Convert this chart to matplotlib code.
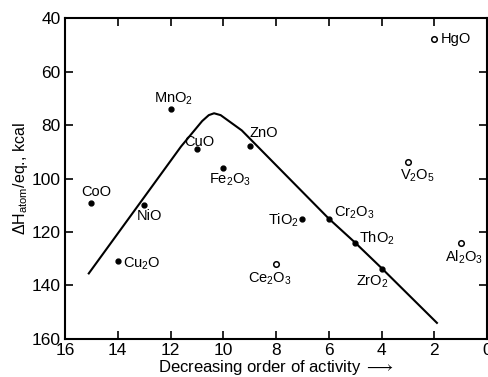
import matplotlib
matplotlib.use("Agg")
import matplotlib.pyplot as plt

plt.rcParams["font.family"] = ["Liberation Sans", "DejaVu Sans"]
plt.rcParams["mathtext.fontset"] = "custom"
plt.rcParams["mathtext.rm"] = "Liberation Sans"
plt.rcParams["mathtext.it"] = "Liberation Sans"

# filled points: oxides on or near the curve
filled_names = ["MnO$_2$", "CuO", "Fe$_2$O$_3$", "ZnO", "CoO", "NiO", "Cu$_2$O",
                "TiO$_2$", "Cr$_2$O$_3$", "ThO$_2$", "ZrO$_2$"]
filled_x = [12, 11, 10, 9, 15, 13, 14, 7, 6, 5, 4]
filled_y = [74, 89, 96, 88, 109, 110, 131, 115, 115, 124, 134]

# open points
open_names = ["HgO", "V$_2$O$_5$", "Al$_2$O$_3$", "Ce$_2$O$_3$"]
open_x = [2, 3, 1, 8]
open_y = [48, 94, 124, 132]

# volcano curve
curve_x = [15.1, 13.0, 11.6, 10.8, 10.55, 10.35, 10.1, 9.3, 6.0, 5.0, 4.0, 1.9]
curve_y = [135.5, 107, 88, 78.5, 76.3, 75.6, 76.3, 82, 115, 124, 133.5, 154]

fig = plt.figure(figsize=(4.89, 3.77), dpi=100)
ax = fig.add_axes([0.133, 0.101, 0.863, 0.851])

ax.plot(curve_x, curve_y, color="black", linewidth=1.5)
ax.plot(filled_x, filled_y, "o", color="black", markersize=3.5, linestyle="none")
ax.plot(open_x, open_y, "o", markerfacecolor="white", markeredgecolor="black",
        markersize=4, markeredgewidth=1.1, linestyle="none")

# label placement (text anchor, alignment)
label_pos = {
    "MnO$_2$": (11.9, 70, "center"),
    "CuO": (10.9, 86.5, "center"),
    "Fe$_2$O$_3$": (10.55, 100.5, "left"),
    "ZnO": (9.0, 83, "left"),
    "CoO": (14.8, 105, "center"),
    "NiO": (12.8, 114, "center"),
    "Cu$_2$O": (13.82, 132, "left"),
    "TiO$_2$": (7.12, 115.5, "right"),
    "Cr$_2$O$_3$": (5.82, 113, "left"),
    "ThO$_2$": (4.85, 122.5, "left"),
    "ZrO$_2$": (4.36, 138.5, "center"),
    "HgO": (1.75, 47.8, "left"),
    "V$_2$O$_5$": (2.65, 99, "center"),
    "Al$_2$O$_3$": (0.88, 129.5, "center"),
    "Ce$_2$O$_3$": (8.25, 137.5, "center"),
}
for name, (tx, ty, ha) in label_pos.items():
    ax.text(tx, ty, name, ha=ha, va="center", fontsize=10.5)

ax.set_xlim(16, 0)
ax.set_ylim(160, 40)
ax.set_xticks([16, 14, 12, 10, 8, 6, 4, 2, 0])
ax.set_yticks([40, 60, 80, 100, 120, 140, 160])
ax.tick_params(direction="in", top=True, right=True, length=6, width=1.2,
               labelsize=12.5, pad=3)
for s in ax.spines.values():
    s.set_linewidth(1.5)

ax.set_xlabel(r"Decreasing order of activity $\longrightarrow$", fontsize=12, labelpad=0)
ax.set_ylabel(r"$\Delta$H$_{atom}$/eq., kcal", fontsize=11.5, labelpad=1)

fig.savefig("out.png", dpi=100)
